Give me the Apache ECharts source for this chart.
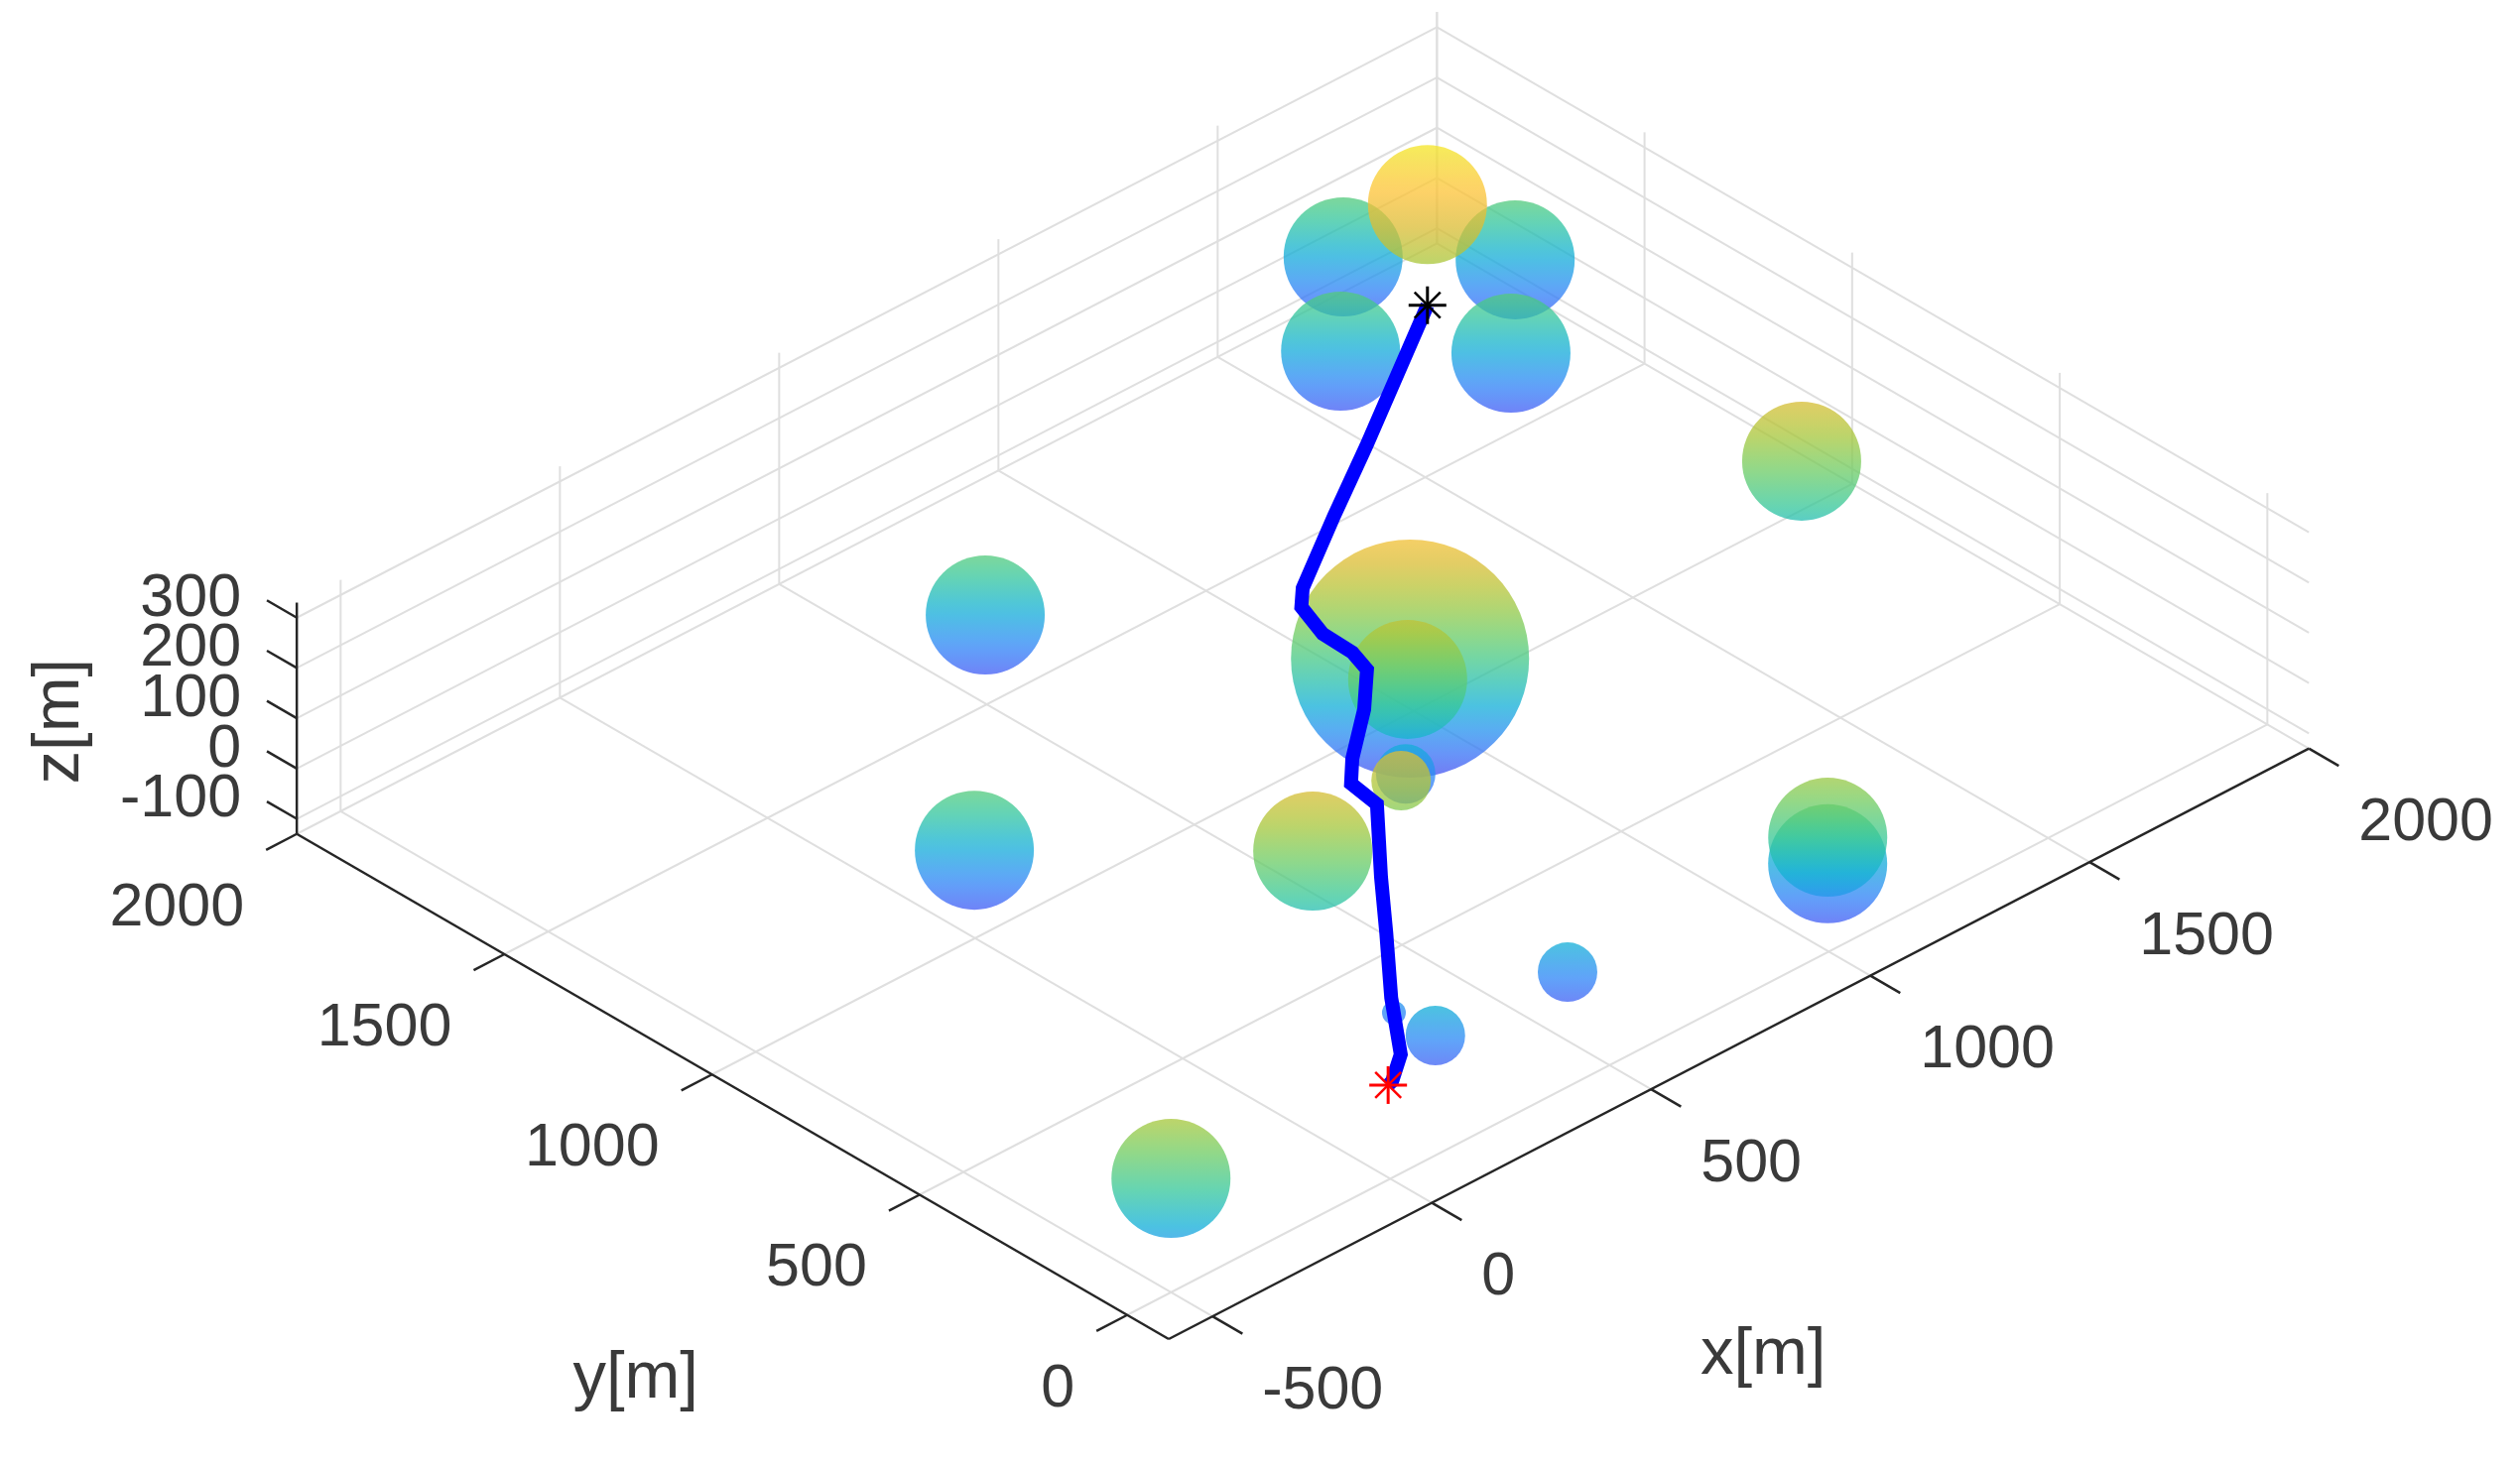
<!DOCTYPE html>
<html>
<head>
<meta charset="utf-8">
<style>html,body{margin:0;padding:0;background:#fff}#chart{width:2540px;height:1480px}</style>
<script src="https://cdn.jsdelivr.net/npm/echarts@6/dist/echarts.min.js"></script>
</head>
<body>
<div id="chart"></div>
<script>
// axis ticks, metres
var xTicks = [-500, 0, 500, 1000, 1500, 2000];
var yTicks = [0, 500, 1000, 1500, 2000];
var zTicks = [-100, 0, 100, 200, 300];

// obstacles (spheres), metres
var sphereX = [684, 182, -326, 483, 1181, 1184, 1882, 1042, 975, 891, 694, 674, 383, 386, 1859, 2060, 1660, 1861, 1860];
var sphereY = [1698, 1194, 184, 697, 194, 197, 997, 1053, 988, 904, 707, 285, 296, 399, 2077, 1875, 1873, 1675, 1875];
var sphereZ = [-130, -130, -70, -30, -130, -80, -30, -70, -50, -160, 10, -160, -160, -165, -130, -130, -130, -130, 70];
var sphereR = [100, 100, 100, 100, 100, 100, 100, 200, 100, 50, 50, 50, 50, 20, 100, 100, 100, 100, 100];

// flight path, from the black star to the red one
var pathX = [1860, 1493, 1310, 1122, 1081, 1051, 1048, 1030, 944, 827, 774, 762, 616, 505, 377, 271, 205, 192];
var pathY = [1875, 1635, 1519, 1396, 1356, 1273, 1198, 1144, 1060, 965, 912, 837, 673, 543, 396, 261, 212, 208];
var pathZ = [-130, -130, -130, -130, -130, -130, -130, -130, -130, -130, -130, -130, -130, -130, -130, -130, -130, -130];

// parula, evenly spaced
var parula = ['#3e26a8', '#4752f4', '#2d87f7', '#12b1d6', '#37c897', '#6fcc63', '#abc739', '#dcbc34', '#fec338', '#f4dd2b', '#f9fb15'];

var xMin = -600, xMax = 2000, yMin = -100, yMax = 2000, zMin = -130, zMax = 330;
var cMin = -250, cMax = 170;

// 正交投影：米 -> 画布平面
function project(x, y, z) {
    var X = x - xMin, Y = y - yMin, Z = z - zMin;
    return [1178 + 0.442 * X - 0.4185 * Y, 1350 - 0.229 * X - 0.2425 * Y - 0.507 * Z];
}

function segment(a, b) {
    var p = project(a[0], a[1], a[2]), q = project(b[0], b[1], b[2]);
    return [p[0], p[1], q[0], q[1]];
}

function hexToRgb(hex) {
    return [parseInt(hex.substr(1, 2), 16), parseInt(hex.substr(3, 2), 16), parseInt(hex.substr(5, 2), 16)];
}

function colormap(z) {
    var t = Math.max(0, Math.min(1, (z - cMin) / (cMax - cMin))) * (parula.length - 1);
    var i = Math.min(Math.floor(t), parula.length - 2);
    var a = hexToRgb(parula[i]), b = hexToRgb(parula[i + 1]), f = t - i;
    return 'rgb(' + Math.round(a[0] + (b[0] - a[0]) * f) + ',' + Math.round(a[1] + (b[1] - a[1]) * f) + ',' + Math.round(a[2] + (b[2] - a[2]) * f) + ')';
}

var gridLines = [];
var axisLines = [];
var i;
for (i = 0; i < xTicks.length; i++) {
    gridLines.push(segment([xTicks[i], yMin, zMin], [xTicks[i], yMax, zMin]));
    gridLines.push(segment([xTicks[i], yMax, zMin], [xTicks[i], yMax, zMax]));
    axisLines.push(segment([xTicks[i], yMin, zMin], [xTicks[i], yMin - 72, zMin]));
}
for (i = 0; i < yTicks.length; i++) {
    gridLines.push(segment([xMin, yTicks[i], zMin], [xMax, yTicks[i], zMin]));
    gridLines.push(segment([xMax, yTicks[i], zMin], [xMax, yTicks[i], zMax]));
    axisLines.push(segment([xMin, yTicks[i], zMin], [xMin - 70, yTicks[i], zMin]));
}
for (i = 0; i < zTicks.length; i++) {
    gridLines.push(segment([xMin, yMax, zTicks[i]], [xMax, yMax, zTicks[i]]));
    gridLines.push(segment([xMax, yMax, zTicks[i]], [xMax, yMin, zTicks[i]]));
    axisLines.push(segment([xMin, yMax, zTicks[i]], [xMin, yMax + 72, zTicks[i]]));
}
axisLines.push(segment([xMin, yMin, zMin], [xMax, yMin, zMin]));
axisLines.push(segment([xMin, yMin, zMin], [xMin, yMax, zMin]));
axisLines.push(segment([xMin, yMax, zMin], [xMin, yMax, zMax]));

function segmentSeries(data, color, width) {
    return {
        type: 'custom',
        silent: true,
        clip: false,
        data: data,
        renderItem: function (params, api) {
            var a = api.coord([api.value(0), api.value(1)]);
            var b = api.coord([api.value(2), api.value(3)]);
            return {
                type: 'line',
                shape: {x1: a[0], y1: a[1], x2: b[0], y2: b[1]},
                style: {stroke: color, lineWidth: width}
            };
        }
    };
}

function labelSeries(rows, dx, dy, align) {
    return {
        type: 'custom',
        silent: true,
        clip: false,
        data: rows,
        renderItem: function (params, api) {
            var a = api.coord([api.value(0), api.value(1)]);
            return {
                type: 'text',
                style: {
                    x: a[0] + dx,
                    y: a[1] + dy,
                    text: String(rows[params.dataIndex][2]),
                    fill: '#3a3a3a',
                    font: '61px "Liberation Sans"',
                    align: align,
                    verticalAlign: 'middle'
                }
            };
        }
    };
}

function tickRows(ticks, fn) {
    var rows = [];
    for (var k = 0; k < ticks.length; k++) {
        var p = fn(ticks[k]);
        rows.push([p[0], p[1], ticks[k]]);
    }
    return rows;
}

function titleSeries(text, x, y, z, dx, dy, rotation) {
    var p = project(x, y, z);
    return {
        type: 'custom',
        silent: true,
        clip: false,
        data: [[p[0], p[1]]],
        renderItem: function (params, api) {
            var a = api.coord([api.value(0), api.value(1)]);
            return {
                type: 'text',
                x: a[0] + dx,
                y: a[1] + dy,
                rotation: rotation,
                style: {
                    x: 0,
                    y: 0,
                    text: text,
                    fill: '#3a3a3a',
                    font: '67px "Liberation Sans"',
                    align: 'center',
                    verticalAlign: 'middle'
                }
            };
        }
    };
}

function starSeries(x, y, z, color) {
    var p = project(x, y, z);
    return {
        type: 'custom',
        silent: true,
        clip: false,
        z: 5,
        data: [[p[0], p[1]]],
        renderItem: function (params, api) {
            var c = api.coord([api.value(0), api.value(1)]);
            var arms = [[19, 0], [0, 19], [13, 13], [13, -13]];
            return {
                type: 'group',
                children: arms.map(function (d, n) {
                    return {
                        type: 'line',
                        shape: {x1: c[0] - d[0], y1: c[1] - d[1], x2: c[0] + d[0], y2: c[1] + d[1]},
                        style: {stroke: color, lineWidth: n < 2 ? 3 : 2.5}
                    };
                })
            };
        }
    };
}

var sphereData = [];
for (i = 0; i < sphereX.length; i++) {
    var c = project(sphereX[i], sphereY[i], sphereZ[i]);
    sphereData.push([c[0], c[1], sphereZ[i], sphereR[i]]);
}

var pathData = [];
for (i = 0; i < pathX.length; i++) {
    pathData.push(project(pathX[i], pathY[i], pathZ[i]));
}

var pxPerMetre = 0.6;
var sphereSeries = {
    type: 'custom',
    silent: true,
    clip: false,
    data: sphereData,
    renderItem: function (params, api) {
        var c = api.coord([api.value(0), api.value(1)]);
        var zc = api.value(2), r = api.value(3);
        var stops = [];
        for (var k = 0; k <= 10; k++) {
            // colour runs with z down the silhouette
            stops.push({offset: k / 10, color: colormap(zc + 0.7 * r * (1 - k / 5))});
        }
        return {
            type: 'circle',
            shape: {cx: c[0], cy: c[1], r: r * pxPerMetre},
            style: {fill: new echarts.graphic.LinearGradient(0, 0, 0, 1, stops), opacity: 0.76}
        };
    }
};

var option = {
    animation: false,
    backgroundColor: '#fff',
    grid: {left: 0, right: 0, top: 0, bottom: 0},
    xAxis: {type: 'value', min: 0, max: 2540, show: false},
    yAxis: {type: 'value', min: 0, max: 1480, inverse: true, show: false},
    series: [
        segmentSeries(gridLines, '#dfdfdf', 2),
        sphereSeries,
        segmentSeries(axisLines, '#262626', 2.5),
        labelSeries(tickRows(xTicks, function (v) { return project(v, yMin, zMin); }), 50, 76, 'left'),
        labelSeries(tickRows(yTicks, function (v) { return project(xMin, v, zMin); }), -53, 75, 'right'),
        labelSeries(tickRows(zTicks, function (v) { return project(xMin, yMax, v); }), -56, -19, 'right'),
        titleSeries('x[m]', 500, yMin, zMin, 113, 268, 0),
        titleSeries('y[m]', xMin, 1000, zMin, -77, 307, 0),
        titleSeries('z[m]', xMin, yMax, 100, -239, 3, Math.PI / 2),
        {
            type: 'line',
            silent: true,
            clip: false,
            z: 4,
            data: pathData,
            symbol: 'none',
            lineStyle: {color: '#0000ff', width: 14, join: 'miter'}
        },
        starSeries(pathX[0], pathY[0], pathZ[0], '#000000'),
        starSeries(pathX[pathX.length - 1], pathY[pathY.length - 1], pathZ[pathZ.length - 1], '#ff0000')
    ]
};

var chart = echarts.init(document.getElementById('chart'));
chart.setOption(option);
</script>
</body>
</html>
